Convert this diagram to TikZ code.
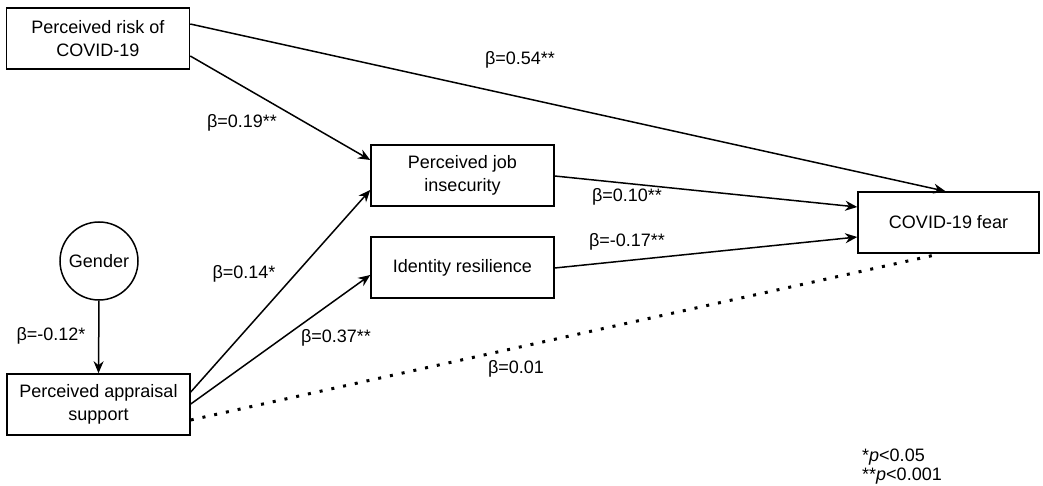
\documentclass[tikz,border=0pt]{standalone}
\usepackage{fontspec}
\setmainfont{Liberation Sans}
\usetikzlibrary{arrows.meta}
\begin{document}
\begin{tikzpicture}[x=1pt,y=-1pt,
  font=\fontsize{18}{22.5}\selectfont,
  box/.style={draw,line width=1.5pt,minimum width=183pt,minimum height=61pt,align=center,inner sep=2pt},
  circ/.style={draw,line width=1.5pt,circle,minimum size=78pt,inner sep=0pt},
  arr/.style={line width=1.5pt,-{Stealth[length=12pt,width=10pt]}},
  dot/.style={line width=3pt,dash pattern=on 3pt off 9pt},
  lbl/.style={inner sep=0pt}]
\useasboundingbox (0,0) rectangle (1043,486);
\node[box] (risk) at (98,38.5) {Perceived risk of\\COVID-19};
\node[box] (appr) at (98.5,404.5) {Perceived appraisal\\support};
\node[circ] (gender) at (99,261) {Gender};
\node[box] (job) at (462.5,175.5) {Perceived job\\insecurity};
\node[box] (ident) at (462.5,267.5) {Identity resilience};
\node[box,minimum width=181pt] (fear) at (948.5,222.5) {COVID-19 fear};

\draw[arr] ([yshift=14.5pt]risk.east) -- ([xshift=-3pt]fear.north);
\draw[arr] ([yshift=-17.5pt]risk.east) -- ([yshift=15.5pt]job.west);
\draw[arr] ([yshift=12.5pt]appr.east) -- ([yshift=-14.5pt]job.west);
\draw[arr] ([yshift=0.5pt]appr.east) -- ([yshift=-7.5pt]ident.west);
\draw[arr] ([yshift=-0.5pt]job.east) -- ([yshift=15.5pt]fear.west);
\draw[arr] ([yshift=-0.5pt]ident.east) -- ([yshift=-14.5pt]fear.west);
\draw[arr] (gender.south) -- (appr.north);
\draw[dot] ([yshift=-15.5pt]appr.east) -- ([xshift=-8pt]fear.south);

\node[lbl] (l1) at (520,60) {β=0.54**};
\node[lbl] (l2) at (242,123) {β=0.19**};
\node[lbl] (l3) at (627,197) {β=0.10**};
\node[lbl] (l4) at (627,242) {β=-0.17**};
\node[lbl] (l5) at (244,274) {β=0.14*};
\node[lbl] (l6) at (336,338) {β=0.37**};
\node[lbl] (l7) at (51,336) {β=-0.12*};
\node[lbl] (l8) at (516,368.5) {β=0.01};
\node[lbl,anchor=west] (n1) at (862,457) {*\textit{p}<0.05};
\node[lbl,anchor=west] (n2) at (862,476) {**\textit{p}<0.001};
\end{tikzpicture}
\end{document}
